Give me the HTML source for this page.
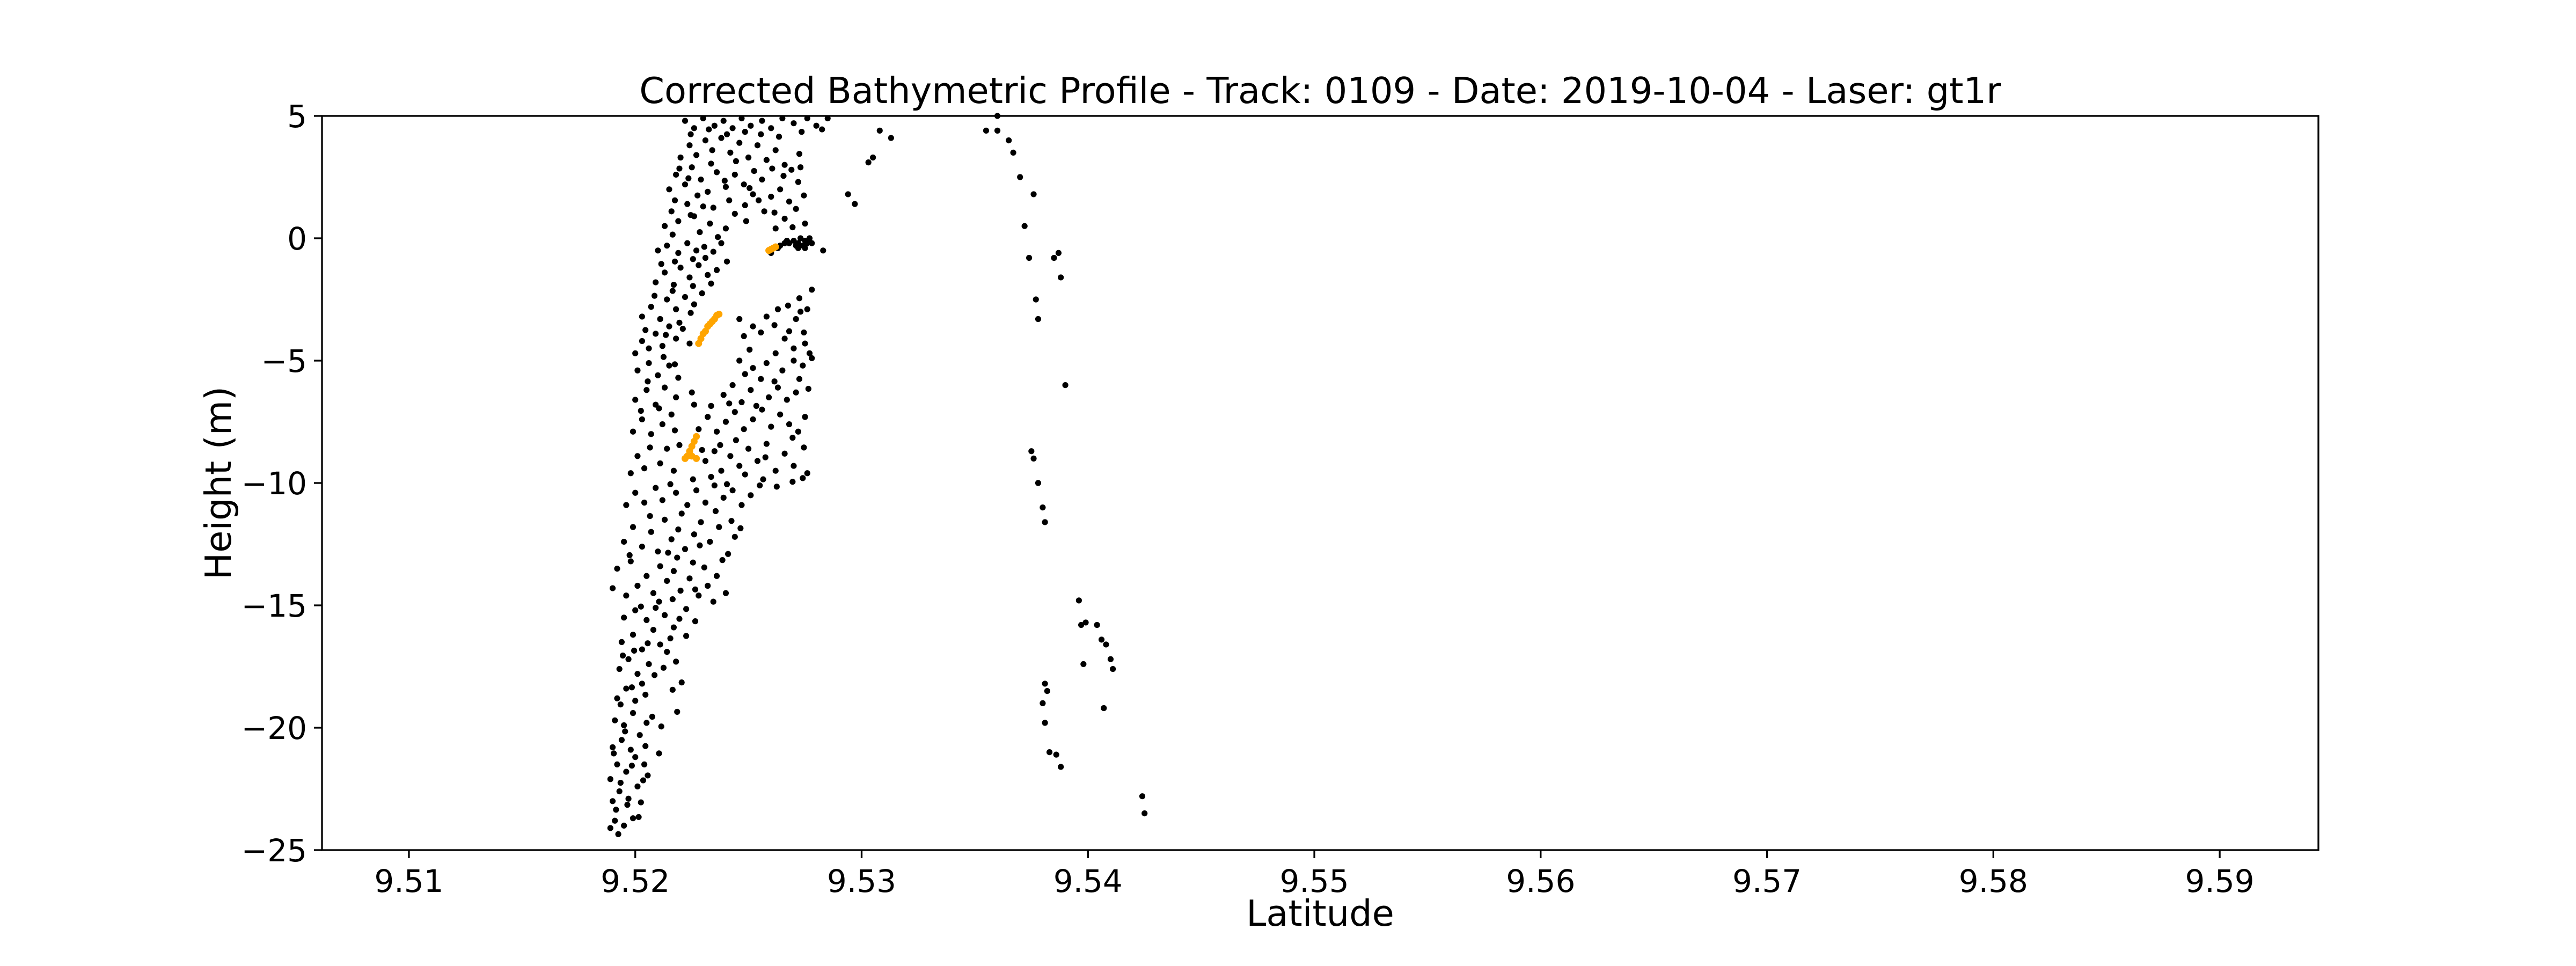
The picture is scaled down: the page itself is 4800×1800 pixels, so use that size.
<!DOCTYPE html>
<html><head><meta charset="utf-8"><style>
html,body{margin:0;padding:0;background:#fff;}
svg{display:block;font-family:"DejaVu Sans","Liberation Sans",sans-serif;}
</style></head><body>
<svg id="chart" width="4800" height="1800" xmlns="http://www.w3.org/2000/svg">
<rect x="0" y="0" width="4800" height="1800" fill="#fff"/>
<text x="2460" y="192" font-size="67" text-anchor="middle">Corrected Bathymetric Profile - Track: 0109 - Date: 2019-10-04 - Laser: gt1r</text>
<text x="2460" y="1725" font-size="67" text-anchor="middle">Latitude</text>
<text transform="translate(430,900) rotate(-90)" font-size="67" text-anchor="middle">Height (m)</text>
<g id="marks"></g>
<g id="axes"></g>
</svg>
<script>
const xTicks = [9.51,9.52,9.53,9.54,9.55,9.56,9.57,9.58,9.59];
const xTickLabels = ["9.51","9.52","9.53","9.54","9.55","9.56","9.57","9.58","9.59"];
const yTicks = [5,0,-5,-10,-15,-20,-25];
const yTickLabels = ["5","0","\u22125","\u221210","\u221215","\u221220","\u221225"];
const xDomain = [9.50616, 9.59436];
const yDomain = [-25, 5];

const blackPoints = [
[9.5189,-24.1],[9.5191,-23.8],[9.5195,-24.0],[9.5199,-23.7],[9.5190,-23.0],[9.5193,-22.6],[9.5197,-22.9],[9.5201,-22.4],[9.5189,-22.1],[9.5192,-21.5],[9.5196,-21.8],[9.5200,-21.2],[9.5204,-21.5],[9.5190,-20.8],[9.5194,-20.5],[9.5198,-20.9],[9.5202,-20.3],[9.5191,-19.7],[9.5195,-19.9],[9.5199,-19.4],[9.5205,-19.8],
[9.5192,-18.8],[9.5196,-18.4],[9.5200,-18.9],[9.5203,-18.2],[9.5193,-17.6],[9.5197,-17.2],[9.5201,-17.8],[9.5206,-17.4],[9.5194,-16.5],[9.5199,-16.2],[9.5203,-16.8],[9.5208,-16.0],[9.5211,-16.6],[9.5195,-15.5],[9.5200,-15.2],[9.5205,-15.6],[9.5209,-15.1],[9.5213,-15.4],[9.5217,-15.9],[9.5214,-16.9],[9.5218,-17.3],
[9.5190,-14.3],[9.5192,-13.5],[9.5196,-14.6],[9.5198,-13.2],[9.5201,-14.2],[9.5205,-13.8],[9.5208,-14.5],[9.5211,-13.4],[9.5214,-14.0],[9.5217,-13.6],[9.5220,-14.4],[9.5224,-13.9],[9.5228,-14.6],[9.5232,-14.2],[9.5236,-13.8],[9.5240,-14.5],[9.5195,-12.4],[9.5199,-11.8],[9.5203,-12.6],[9.5207,-12.0],[9.5210,-12.8],[9.5213,-11.5],[9.5216,-12.3],[9.5219,-11.9],[9.5222,-12.7],[9.5226,-12.1],[9.5229,-11.6],[9.5233,-12.4],[9.5237,-11.8],[9.5241,-12.9],[9.5244,-12.2],[9.5196,-10.9],[9.5200,-10.4],[9.5204,-10.8],[9.5209,-10.2],[9.5212,-10.7],[9.5218,-10.4],[9.5223,-10.9],[9.5227,-10.3],[9.5231,-10.8],[9.5235,-10.1],[9.5239,-10.6],[9.5243,-10.3],[9.5247,-10.9],[9.5251,-10.5],[9.5255,-10.1],
[9.5198,-9.6],[9.5201,-8.9],[9.5204,-9.4],[9.5211,-9.2],[9.5214,-8.6],[9.5217,-9.5],[9.5231,-9.1],[9.5235,-8.7],[9.5238,-9.5],[9.5242,-8.9],[9.5246,-9.3],[9.5250,-8.6],[9.5254,-9.1],[9.5258,-8.4],[9.5262,-9.5],[9.5266,-8.8],[9.5270,-9.3],[9.5274,-9.8],[9.5276,-9.6],[9.5199,-7.9],[9.5203,-7.4],[9.5207,-8.0],[9.5212,-7.6],[9.5216,-7.2],[9.5228,-7.8],[9.5232,-7.3],[9.5236,-7.9],[9.5240,-7.5],[9.5244,-7.1],[9.5248,-7.8],[9.5252,-7.4],[9.5256,-7.0],[9.5260,-7.7],[9.5264,-7.2],[9.5268,-7.6],[9.5272,-7.9],[9.5275,-7.3],[9.5200,-6.6],[9.5205,-6.2],[9.5209,-6.8],[9.5213,-6.1],[9.5218,-6.5],[9.5225,-6.3],[9.5226,-6.8],[9.5239,-6.4],[9.5243,-6.0],[9.5247,-6.7],[9.5251,-6.2],[9.5259,-6.5],[9.5263,-6.1],[9.5267,-6.6],[9.5271,-6.3],[9.5201,-5.4],[9.5206,-5.1],[9.5210,-5.6],[9.5215,-5.2],[9.5219,-5.7],[9.5246,-5.0],[9.5252,-5.3],[9.5258,-5.1],[9.5265,-5.4],[9.5270,-5.0],[9.5274,-5.2],[9.5278,-4.9],
[9.5200,-4.7],[9.5203,-4.2],[9.5206,-4.5],[9.5209,-3.9],[9.5212,-4.4],[9.5215,-3.6],[9.5218,-4.1],[9.5221,-3.7],[9.5224,-4.3],[9.5203,-3.2],[9.5207,-2.8],[9.5211,-3.3],[9.5214,-2.5],[9.5218,-2.9],[9.5222,-2.4],[9.5226,-2.7],[9.5209,-1.8],[9.5213,-1.4],[9.5217,-1.9],[9.5220,-1.2],[9.5224,-1.6],[9.5228,-1.1],[9.5232,-1.5],[9.5236,-1.3],[9.5210,-0.5],[9.5214,-0.3],[9.5219,-0.6],[9.5223,-0.2],[9.5227,-0.5],[9.5231,-0.8],[9.5238,-0.2],[9.5271,-3.3],[9.5273,-3.0],[9.5276,-2.9],[9.5278,-2.1],[9.5266,-4.1],[9.5270,-4.5],[9.5275,-4.3],[9.5262,-4.7],[9.5268,-3.8],[9.5277,-4.7],[9.5246,-3.3],[9.5252,-3.6],[9.5258,-3.2],[9.5263,-2.9],[9.5248,-4.0],
[9.5213,0.5],[9.5216,1.1],[9.5219,0.7],[9.5223,1.4],[9.5226,0.9],[9.5230,1.3],[9.5233,0.6],[9.5215,2.0],[9.5218,2.6],[9.5222,2.2],[9.5225,2.9],[9.5229,2.4],[9.5232,1.9],[9.5236,2.7],[9.5240,2.1],[9.5244,2.6],[9.5248,2.2],[9.5252,1.8],[9.5256,2.4],[9.5260,1.7],[9.5264,2.0],[9.5268,1.5],[9.5272,2.3],[9.5220,3.3],[9.5224,3.8],[9.5227,3.4],[9.5231,4.0],[9.5234,3.6],[9.5238,4.1],[9.5242,3.5],[9.5246,3.9],[9.5250,3.3],[9.5254,3.8],[9.5258,3.2],[9.5262,3.6],[9.5266,3.0],[9.5269,2.8],[9.5273,2.9],[9.5222,4.8],[9.5226,4.5],[9.5230,4.9],[9.5235,4.6],[9.5239,4.8],[9.5243,4.5],[9.5247,4.9],[9.5251,4.6],[9.5256,4.8],[9.5260,4.5],[9.5265,4.9],[9.5270,4.7],[9.5276,4.9],[9.5280,4.6],[9.5285,4.9],[9.5240,0.4],[9.5244,1.0],[9.5249,0.7],[9.5257,1.1],[9.5262,0.4],[9.5266,0.8],[9.5271,1.2],[9.5275,0.6],
[9.5270,-0.1],[9.5271,-0.3],[9.5272,-0.2],[9.5273,0.0],[9.5274,-0.3],[9.5275,-0.1],[9.5276,-0.2],[9.5277,0.0],[9.5272,-0.4],[9.5275,-0.4],[9.5278,-0.2],[9.5263,-0.4],[9.5264,-0.3],[9.5266,-0.2],[9.5267,-0.1],[9.5268,-0.2],[9.5260,-0.6],[9.5283,-0.5],
[9.5294,1.8],[9.5297,1.4],[9.5303,3.1],[9.5305,3.3],[9.5308,4.4],[9.5313,4.1],[9.5355,4.4],[9.5360,4.4],[9.5360,5.0],
[9.5365,4.0],[9.5367,3.5],[9.5370,2.5],[9.5372,0.5],[9.5376,1.8],[9.5374,-0.8],[9.5377,-2.5],[9.5378,-3.3],[9.5385,-0.8],[9.5387,-0.6],[9.5388,-1.6],[9.5390,-6.0],[9.5375,-8.7],[9.5376,-9.0],[9.5378,-10.0],[9.5380,-11.0],[9.5381,-11.6],[9.5381,-18.2],[9.5382,-18.5],[9.5380,-19.0],[9.5381,-19.8],[9.5383,-21.0],[9.5386,-21.1],[9.5388,-21.6],[9.5396,-14.8],[9.5397,-15.8],[9.5399,-15.7],[9.5398,-17.4],[9.5404,-15.8],[9.5406,-16.4],[9.5408,-16.6],[9.5410,-17.2],[9.5411,-17.6],[9.5407,-19.2],[9.5424,-22.8],[9.5425,-23.5]
];
const blackPointsExtra = [
[9.51915,-23.35],[9.51965,-23.15],[9.52025,-23.05],[9.51935,-22.25],[9.51985,-21.55],[9.52035,-22.15],[9.51905,-21.05],[9.51955,-20.15],[9.52045,-20.75],[9.52075,-19.55],
[9.51935,-19.05],[9.51985,-18.35],[9.52045,-18.65],[9.52085,-17.85],[9.51945,-17.05],[9.51995,-16.85],[9.52055,-16.55],[9.52125,-17.55],[9.52155,-16.35],[9.52195,-15.55],
[9.52025,-15.05],[9.52105,-14.85],[9.52165,-14.75],[9.52225,-15.15],[9.52265,-14.35],[9.52305,-13.45],[9.52345,-14.85],[9.52185,-13.05],[9.52255,-13.25],[9.52385,-13.15],
[9.51975,-12.95],[9.52065,-11.35],[9.52145,-12.85],[9.52205,-11.25],[9.52285,-12.55],[9.52355,-11.15],[9.52425,-11.55],[9.52465,-11.85],[9.52155,-10.05],[9.52255,-9.85],
[9.52335,-9.75],[9.52405,-10.05],[9.52485,-9.65],[9.52565,-9.85],[9.52625,-10.15],[9.52695,-9.95],[9.52745,-8.55],[9.52695,-8.15],[9.52575,-8.95],[9.52445,-8.25],
[9.52375,-8.45],[9.52295,-8.65],[9.52195,-8.45],[9.52065,-8.55],[9.52025,-7.05],[9.52105,-6.95],[9.52175,-7.85],[9.52335,-6.85],[9.52415,-6.75],[9.52535,-6.85],
[9.52615,-5.85],[9.52555,-5.75],[9.52485,-5.55],[9.52725,-5.75],[9.52765,-6.15],[9.52055,-5.85],[9.52125,-4.85],[9.52175,-5.15],[9.52045,-3.75],[9.52135,-3.95],
[9.52195,-3.45],[9.52245,-3.05],[9.52085,-2.35],[9.52165,-2.15],[9.52255,-1.95],[9.52295,-2.25],[9.52335,-1.85],[9.52115,-1.05],[9.52175,-0.95],[9.52255,-0.85],
[9.52345,-0.55],[9.52405,-0.95],[9.52165,0.15],[9.52285,0.25],[9.52365,0.05],[9.52175,1.55],[9.52275,1.75],[9.52345,1.25],[9.52415,1.55],[9.52485,1.35],
[9.52545,1.55],[9.52615,1.05],[9.52695,0.45],[9.52745,1.75],[9.52195,2.85],[9.52335,3.05],[9.52445,3.15],[9.52525,2.75],[9.52605,2.85],[9.52725,3.45],
[9.52245,4.25],[9.52325,4.45],[9.52405,4.25],[9.52485,4.35],[9.52555,4.25],[9.52635,4.15],[9.52735,4.35],[9.52825,4.45],[9.52235,2.45],[9.52395,2.35],
[9.52505,2.05],[9.52655,2.55],[9.52245,0.95],[9.52305,-0.35],[9.52505,-4.55],[9.52555,-3.85],[9.52615,-3.55],[9.52675,-2.75],[9.52745,-3.85],[9.52725,-2.45],
[9.52185,-19.35],[9.52165,-18.45],[9.52115,-19.95],[9.52105,-21.05],[9.52055,-21.95],[9.52015,-23.65],[9.51925,-24.35],[9.52225,-16.25],[9.52265,-15.65],[9.52205,-18.15]
];
const orangePoints = [
[9.5259,-0.5],[9.5260,-0.45],[9.5261,-0.4],[9.5262,-0.35],
[9.5228,-4.3],[9.5229,-4.1],[9.5230,-3.9],[9.5231,-3.8],[9.5232,-3.6],[9.5233,-3.5],[9.5234,-3.4],[9.5235,-3.3],[9.5236,-3.15],[9.5237,-3.1],
[9.5222,-9.0],[9.5223,-8.9],[9.5224,-8.7],[9.5225,-8.5],[9.5226,-8.3],[9.5227,-8.1],[9.5225,-8.9],[9.5227,-9.0]
];

const L=600,R=4320,T=216,B=1584;
const NS="http://www.w3.org/2000/svg";
function xs(v){return L+(v-xDomain[0])/(xDomain[1]-xDomain[0])*(R-L);}
function ys(v){return B-(v-yDomain[0])/(yDomain[1]-yDomain[0])*(B-T);}
const marks=document.getElementById('marks');
const axes=document.getElementById('axes');
function mk(tag,attrs,parent){const e=document.createElementNS(NS,tag);for(const k in attrs)e.setAttribute(k,attrs[k]);parent.appendChild(e);return e;}

blackPoints.concat(blackPointsExtra).forEach(p=>{
  const c=mk('circle',{cx:xs(p[0]),cy:ys(p[1]),r:5.6,fill:'#000'},marks);
  
  
});
orangePoints.forEach(p=>{
  const c=mk('circle',{cx:xs(p[0]),cy:ys(p[1]),r:6.5,fill:'#ffa500'},marks);
  
  
});

const frame=mk('rect',{x:L,y:T,width:R-L,height:B-T,fill:'none',stroke:'#000','stroke-width':3.3},axes);



xTicks.forEach((v,i)=>{
  const x=xs(v);
  const t=mk('line',{x1:x,x2:x,y1:B,y2:B+15,stroke:'#000','stroke-width':3.3},axes);
  
  
  const lb=mk('text',{x:x,y:B+78,'font-size':58,'text-anchor':'middle'},axes);
  lb.textContent=xTickLabels[i];
  
  
});
yTicks.forEach((v,i)=>{
  const y=ys(v);
  const t=mk('line',{x1:L-15,x2:L,y1:y,y2:y,stroke:'#000','stroke-width':3.3},axes);
  
  
  const lb=mk('text',{x:L-28,y:y+21,'font-size':58,'text-anchor':'end'},axes);
  lb.textContent=yTickLabels[i];
  
  
});
</script>
</body></html>
